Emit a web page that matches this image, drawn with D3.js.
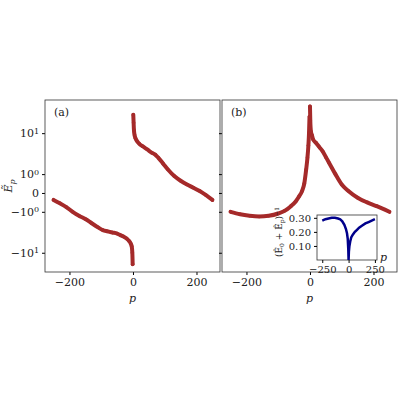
<!DOCTYPE html>
<html><head><meta charset="utf-8">
<script src="https://cdn.jsdelivr.net/npm/d3@7"></script>
<style>body{margin:0;background:#fff}text{font-family:"DejaVu Serif",serif;font-size:11px;fill:#222}</style>
</head><body><svg id="viz" width="400" height="400"></svg>
<script>
// panel (a): two branches
var aNegP = [-250,-230,-210,-190,-170,-150,-130,-110,-95,-80,-65,-50,-40,-30,-20,-12,-7,-4,-2,-1]
var aNegE = [-0.37,-0.55,-0.75,-1.0,-1.25,-1.5,-1.9,-2.4,-2.8,-3.0,-3.2,-3.4,-3.7,-4.0,-4.5,-5.2,-6.0,-7,-10,-19]
var aPosP = [1,2,3,5,8,12,20,30,45,60,70,80,95,110,130,150,170,190,210,230,250]
var aPosE = [28,18,12,9,7.5,6.5,5.5,4.8,4.0,3.3,3.0,2.5,1.8,1.3,0.9,0.65,0.45,0.28,0.1,-0.12,-0.37]
// panel (b)
var bNegP = [-250,-220,-190,-160,-130,-100,-80,-60,-45,-35,-25,-18,-12,-8,-5,-3,-1.5]
var bNegE = [-1.0,-1.15,-1.25,-1.3,-1.25,-1.1,-0.95,-0.7,-0.45,-0.2,0.1,0.5,1.3,2.5,5,10,25]
var bPosP = [0,1,3,6,10,20,30,40,50,60,80,100,120,150,180,210,250]
var bPosE = [45,20,11,9,7,5.7,4.5,3.6,2.6,1.9,1.0,0.45,0.12,-0.25,-0.5,-0.7,-1.0]
// inset
var insP = [-250,-220,-190,-160,-130,-100,-80,-60,-40,-25,-15,-8,-3,0,3,8,15,25,40,60,80,100,130,160,190,220,250]
var insV = [0.28,0.29,0.295,0.30,0.30,0.295,0.29,0.275,0.25,0.22,0.19,0.15,0.08,0.0,0.06,0.1,0.13,0.16,0.18,0.2,0.215,0.23,0.245,0.26,0.27,0.28,0.29]
var yTicks = [10, 1, 0, -1, -10]
var xTicks = [-200, 0, 200]

var svg = d3.select("#viz")
var red = "#a52a2a"
var lin = 0.46
function tr(v) { var a = Math.abs(v); return a < 1 ? v * lin : Math.sign(v) * (lin + Math.log10(a)) }

var pTop = 100, pBottom = 272
var y = d3.scaleLinear().domain([-1.93, 2.27]).range([pBottom, pTop])
var Y = v => y(tr(v))

function panel(x0, x1, label, branches, showY) {
    var x = d3.scaleLinear().domain([-277, 274]).range([x0, x1])
    var g = svg.append("g")
    g.append("g").attr("transform", `translate(0,${pBottom})`)
        .call(d3.axisBottom(x).tickValues(xTicks).tickSize(3).tickFormat(d => String(d).replace("-", "\u2212")))
        .call(a => a.selectAll("text").style("font-size", "11px"))
    var ya = g.append("g").attr("transform", `translate(${x0},0)`)
        .call(d3.axisLeft(y).tickValues(yTicks.map(tr)).tickSize(3).tickFormat(""))
    if (showY) {
        ya.selectAll(".tick text").remove()
        ya.selectAll(".tick").append("text").attr("x", -6).attr("dy", "0.32em").attr("text-anchor", "end")
            .style("font-size", "11px")
            .each(function(d, i) {
                var v = yTicks[i], t = d3.select(this)
                if (v == 0) { t.text("0"); return }
                t.append("tspan").text((v < 0 ? "\u2212" : "") + "10")
                t.append("tspan").attr("dy", "-0.45em").style("font-size", "8px").text(Math.abs(v) == 10 ? "1" : "0")
            })
    }
    g.selectAll(".domain").remove()
    g.append("rect").attr("x", x0).attr("y", pTop).attr("width", x1 - x0).attr("height", pBottom - pTop)
        .attr("fill", "none").attr("stroke", "#333").attr("stroke-width", 0.8)
    g.append("text").attr("x", x0 + 9).attr("y", pTop + 16).text(label)
    g.append("text").attr("x", (x0 + x1) / 2).attr("y", pBottom + 30).attr("text-anchor", "middle").style("font-style", "italic").text("p")
    branches.forEach(function(b) {
        var pts = b[0].map((p, i) => [x(p), Y(b[1][i])])
        g.append("path").attr("d", d3.line().curve(d3.curveMonotoneX)(pts)).attr("fill", "none")
            .attr("stroke", red).attr("stroke-width", 4).attr("stroke-linecap", "round")
        g.selectAll(null).data(pts).enter().append("circle").attr("cx", d => d[0]).attr("cy", d => d[1]).attr("r", 1.8).attr("fill", red)
    })
    return x
}

panel(45, 220, "(a)", [[aNegP, aNegE], [aPosP, aPosE]], true)
panel(222, 397, "(b)", [[bNegP, bNegE], [bPosP, bPosE]], false)

svg.append("text").attr("transform", "translate(12,186) rotate(-90)").attr("text-anchor", "middle")
    .style("font-style", "italic").html("Ẽ<tspan dy='3' style='font-size:8px'>p</tspan>")

// inset
var ix = d3.scaleLinear().domain([-300, 270]).range([317, 377])
var iy = d3.scaleLinear().domain([0, 0.32]).range([260, 215])
svg.append("rect").attr("x", 317).attr("y", 215).attr("width", 60).attr("height", 45).attr("fill", "#fff").attr("stroke", "#333").attr("stroke-width", 0.8)
var ig = svg.append("g")
ig.append("g").attr("transform", "translate(0,260)").call(d3.axisBottom(ix).tickValues([-250, 0, 250]).tickSize(3).tickFormat(d => String(d).replace("-", "\u2212")))
ig.append("g").attr("transform", "translate(317,0)").call(d3.axisLeft(iy).tickValues([0.1, 0.2, 0.3]).tickSize(3))
ig.selectAll(".domain").remove()
ig.selectAll("text").style("font-size", "10px")
ig.append("path").attr("d", d3.line().x((d, i) => ix(insP[i])).y(d => iy(d))(insV))
    .attr("fill", "none").attr("stroke", "#00008b").attr("stroke-width", 2.5)
svg.append("text").attr("x", 380).attr("y", 261).style("font-style", "italic").text("p")
svg.append("text").attr("transform", "translate(282,232) rotate(-90)").attr("text-anchor", "middle").style("font-size", "9px")
    .html("(Ê<tspan dy='2' style='font-size:6px'>0</tspan><tspan dy='-2'> + Ê</tspan><tspan dy='2' style='font-size:6px'>p</tspan><tspan dy='-2'>)</tspan><tspan dy='-3' style='font-size:6px'>−1</tspan>")
</script></body></html>
